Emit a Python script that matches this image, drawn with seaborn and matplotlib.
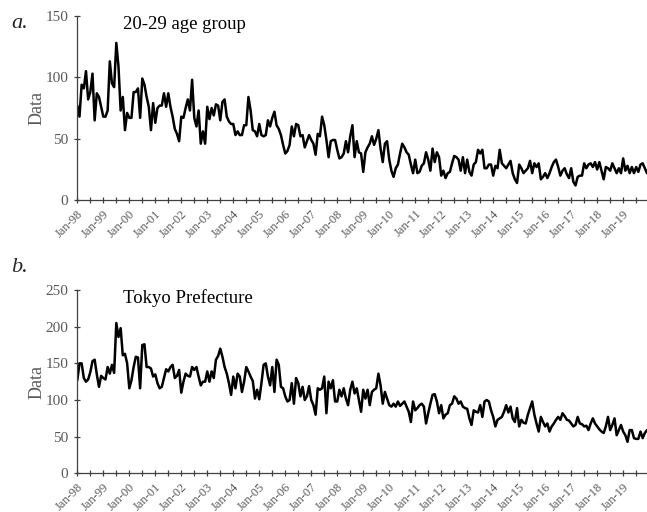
import numpy as np
import pandas as pd
import matplotlib
matplotlib.use("Agg")
import matplotlib.pyplot as plt
import seaborn as sns

# monthly series, Jan-98 .. Dec-19
age_20_29 = [
    77, 68, 94, 91, 105, 82, 88, 103, 65, 87, 84, 76,
    68, 68, 73, 113, 95, 92, 128, 109, 73, 84, 57, 71,
    67, 67, 88, 88, 91, 67, 99, 94, 84, 76, 57, 79,
    63, 75, 77, 77, 87, 76, 87, 76, 68, 58, 54, 48,
    68, 67, 75, 82, 73, 98, 67, 60, 73, 46, 56, 46,
    76, 66, 75, 69, 78, 77, 65, 80, 82, 68, 64, 62,
    62, 53, 56, 53, 53, 61, 61, 84, 73, 57, 56, 52,
    62, 53, 52, 53, 65, 60, 67, 72, 61, 58, 53, 45,
    38, 40, 45, 60, 52, 62, 61, 52, 53, 43, 48, 53,
    49, 46, 37, 54, 52, 68, 61, 49, 35, 48, 49, 49,
    41, 34, 35, 38, 48, 39, 52, 61, 35, 48, 39, 38,
    23, 39, 43, 46, 52, 45, 50, 57, 42, 31, 46, 48,
    33, 24, 19, 26, 29, 38, 46, 43, 39, 37, 29, 22,
    33, 22, 23, 28, 30, 39, 33, 24, 42, 31, 39, 35,
    20, 24, 18, 22, 23, 30, 36, 35, 33, 24, 35, 22,
    33, 23, 20, 29, 31, 41, 38, 41, 26, 26, 29, 29,
    20, 28, 26, 41, 30, 28, 26, 29, 32, 22, 17, 14,
    29, 26, 22, 24, 26, 32, 22, 30, 27, 30, 17, 19,
    22, 18, 22, 27, 31, 33, 27, 20, 24, 26, 21, 18,
    26, 15, 12, 19, 20, 20, 30, 26, 29, 30, 27, 31,
    25, 31, 24, 17, 27, 26, 24, 30, 26, 22, 26, 22,
    34, 24, 28, 22, 27, 22, 27, 23, 29, 30, 26, 22,
]

tokyo = [
    127, 150, 150, 130, 125, 128, 138, 153, 155, 135, 118, 133,
    130, 128, 145, 136, 148, 137, 205, 186, 198, 161, 163, 150,
    116, 127, 145, 159, 158, 116, 175, 176, 145, 145, 143, 132,
    135, 123, 116, 118, 130, 142, 139, 145, 148, 130, 133, 141,
    110, 125, 136, 133, 132, 145, 141, 145, 132, 120, 125, 125,
    139, 125, 139, 130, 155, 160, 170, 159, 145, 136, 123, 107,
    132, 116, 136, 132, 111, 125, 145, 139, 132, 126, 102, 114,
    101, 123, 148, 150, 132, 120, 145, 111, 155, 148, 118, 116,
    105, 98, 100, 123, 95, 130, 123, 105, 118, 100, 105, 119,
    100, 93, 80, 116, 114, 116, 132, 82, 125, 116, 127, 98,
    98, 114, 105, 116, 102, 93, 114, 125, 109, 116, 100, 84,
    114, 102, 114, 93, 111, 114, 116, 136, 120, 95, 111, 102,
    93, 91, 95, 91, 98, 92, 95, 98, 91, 84, 70, 98,
    86, 89, 93, 95, 91, 68, 82, 95, 107, 108, 98, 82,
    93, 75, 80, 82, 93, 95, 105, 102, 95, 98, 91, 89,
    88, 75, 66, 86, 84, 83, 93, 77, 98, 100, 98, 86,
    77, 64, 73, 75, 77, 84, 93, 83, 91, 75, 70, 89,
    64, 73, 69, 68, 80, 89, 98, 80, 68, 57, 77, 70,
    64, 68, 57, 64, 68, 73, 77, 73, 82, 78, 73, 72,
    68, 64, 66, 77, 68, 67, 64, 65, 59, 68, 75, 68,
    64, 60, 57, 55, 64, 77, 59, 66, 75, 52, 59, 66,
    57, 52, 43, 59, 59, 48, 47, 47, 57, 48, 55, 59,
]

year_labels = ["Jan-98", "Jan-99", "Jan-00", "Jan-01", "Jan-02", "Jan-03",
               "Jan-04", "Jan-05", "Jan-06", "Jan-07", "Jan-08", "Jan-09",
               "Jan-10", "Jan-11", "Jan-12", "Jan-13", "Jan-14", "Jan-15",
               "Jan-16", "Jan-17", "Jan-18", "Jan-19"]

df = pd.DataFrame({"month": np.arange(len(age_20_29)),
                   "age": age_20_29, "tokyo": tokyo})

sns.set_style("white")
plt.rcParams["font.family"] = ["Liberation Serif", "DejaVu Serif"]

grey = "#595959"
fig = plt.figure(figsize=(6.47, 5.12), dpi=100)
ax_a = fig.add_axes([0.1195, 0.609, 0.8805, 0.360])
ax_b = fig.add_axes([0.1195, 0.0755, 0.8805, 0.358])

panels = [
    (ax_a, "age", 150, 50, "20-29 age group"),
    (ax_b, "tokyo", 250, 50, "Tokyo Prefecture"),
]

for ax, col, ymax, step, title in panels:
    sns.lineplot(data=df, x="month", y=col, ax=ax, color="black",
                 linewidth=1.8, errorbar=None)
    ax.set_xlim(0, len(df) - 1)
    ax.set_ylim(0, ymax)
    ax.set_yticks(range(0, ymax + 1, step))
    ax.set_xticks(range(0, len(df), 12))
    ax.set_xticks(range(6, len(df), 12), minor=True)
    ax.set_xticklabels(year_labels, rotation=45, ha="right",
                       rotation_mode="anchor", fontsize=9, color=grey)
    ax.tick_params(axis="y", left=True, labelsize=11, labelcolor=grey,
                   direction="inout", length=5, width=0.9, color="#404040",
                   pad=4)
    ax.tick_params(axis="x", which="both", bottom=True, direction="inout",
                   length=5, width=0.9, color="#404040", pad=3)
    for side in ["top", "right"]:
        ax.spines[side].set_visible(False)
    for side in ["left", "bottom"]:
        ax.spines[side].set_color("#404040")
        ax.spines[side].set_linewidth(0.9)
    ax.set_xlabel("")
    ax.set_ylabel("Data", fontsize=13, color=grey, labelpad=0)
    ax.text(0.081, 0.955, title, transform=ax.transAxes, fontsize=13.5,
            color="black", va="center", ha="left")

fig.text(0.018, 0.955, "a.", fontsize=16, style="italic", va="center")
fig.text(0.018, 0.477, "b.", fontsize=16, style="italic", va="center")

fig.savefig("out.png", dpi=100)
